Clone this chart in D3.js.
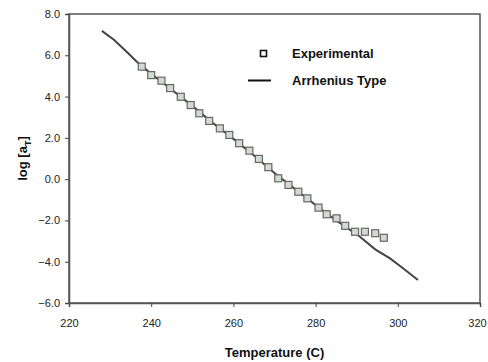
<!DOCTYPE html>
<html>
<head>
<meta charset="UTF-8">
<style>
    body { margin: 0; background: #fff; }
    text { font-family: Arial, "Liberation Sans", sans-serif; }
    .tick text { font-size: 11px; fill: #222; }
    .axis-title { font-size: 13px; font-weight: bold; fill: #111; }
    .legend text { font-size: 13px; font-weight: bold; fill: #111; }
</style>
</head>
<body>
<script src="https://cdn.jsdelivr.net/npm/d3@7"></script>
<script>
// experimental points (temperature C, log aT)
var expTemp = [237.7, 240.0, 242.5, 244.6, 247.2, 249.6, 251.7, 254.1, 256.7, 259.0, 261.4, 263.9, 266.2,
               268.5, 270.9, 273.4, 275.8, 278.0, 280.7, 282.7, 285.1, 287.2, 289.6, 292.0, 294.5, 296.6];
var expLog  = [5.45, 5.04, 4.77, 4.41, 3.99, 3.59, 3.19, 2.82, 2.46, 2.14, 1.74, 1.38, 0.98,
               0.58, 0.04, -0.28, -0.61, -0.93, -1.38, -1.70, -1.90, -2.26, -2.55, -2.55, -2.62, -2.84];
// Arrhenius fit curve
var fitTemp = [228, 231, 234.4, 236.5, 240, 245, 250, 255, 260, 265, 270, 275, 280, 285, 290.8, 294.5, 298.1, 301.5, 304.9];
var fitLog  = [7.18, 6.74, 6.10, 5.69, 5.10, 4.33, 3.55, 2.72, 1.95, 1.15, 0.30, -0.48, -1.25, -2.00, -2.79, -3.40, -3.84, -4.35, -4.89];
var xTicks = [220, 240, 260, 280, 300, 320];
var yTicks = [-6, -4, -2, 0, 2, 4, 6, 8];

var width = 488, height = 362;
var margin = {left: 69, right: 8, top: 14, bottom: 59};

var svg = d3.select("body").append("svg").attr("width", width).attr("height", height);

var x = d3.scaleLinear().domain([220, 320]).range([margin.left, width - margin.right]);
var y = d3.scaleLinear().domain([-6, 8]).range([height - margin.bottom, margin.top]);

// plot frame
svg.append("rect")
    .attr("x", x(220)).attr("y", y(8))
    .attr("width", x(320) - x(220)).attr("height", y(-6) - y(8))
    .attr("fill", "#fff").attr("stroke", "#555").attr("stroke-width", 1.5);

var xAxis = svg.append("g")
    .attr("transform", "translate(0," + y(-6) + ")")
    .call(d3.axisBottom(x).tickValues(xTicks).tickFormat(d3.format("d")).tickSize(4).tickPadding(12));
var yAxis = svg.append("g")
    .attr("transform", "translate(" + x(220) + ",0)")
    .call(d3.axisLeft(y).tickValues(yTicks).tickFormat(d3.format(".1f")).tickSize(4).tickPadding(5));
[xAxis, yAxis].forEach(function(a) {
    a.select(".domain").attr("stroke", "#555").attr("stroke-width", 1.5);
    a.selectAll(".tick line").attr("stroke", "#444");
});
// last label sits against the page edge
xAxis.selectAll(".tick text").filter(function(d) { return d === 320; }).attr("dx", -3);

// fit line
var line = d3.line().x(function(d) { return x(d[0]); }).y(function(d) { return y(d[1]); });
svg.append("path")
    .datum(d3.zip(fitTemp, fitLog))
    .attr("d", line)
    .attr("fill", "none").attr("stroke", "#444").attr("stroke-width", 2);

// experimental squares
var s = 7;
svg.append("g").selectAll("rect")
    .data(d3.zip(expTemp, expLog))
    .enter().append("rect")
    .attr("x", function(d) { return x(d[0]) - s / 2; })
    .attr("y", function(d) { return y(d[1]) - s / 2; })
    .attr("width", s).attr("height", s)
    .attr("fill", "#d3d9d3").attr("stroke", "#666").attr("stroke-width", 1.2);

// legend
var lg = svg.append("g").attr("class", "legend");
lg.append("rect").attr("x", 260.5).attr("y", 50.5).attr("width", 6).attr("height", 6)
    .attr("fill", "#fff").attr("stroke", "#111").attr("stroke-width", 1.6);
lg.append("text").attr("x", 292).attr("y", 57.5).text("Experimental");
lg.append("line").attr("x1", 248).attr("x2", 271).attr("y1", 80.5).attr("y2", 80.5)
    .attr("stroke", "#111").attr("stroke-width", 2);
lg.append("text").attr("x", 292).attr("y", 85).text("Arrhenius Type");

// axis titles
svg.append("text").attr("class", "axis-title")
    .attr("x", (x(220) + x(320)) / 2).attr("y", 357)
    .attr("text-anchor", "middle").text("Temperature (C)");

var yt = svg.append("text").attr("class", "axis-title")
    .attr("transform", "translate(27," + ((y(8) + y(-6)) / 2) + ") rotate(-90)")
    .attr("text-anchor", "middle");
yt.append("tspan").text("log [a");
yt.append("tspan").attr("dy", 4).attr("font-size", 9).text("T");
yt.append("tspan").attr("dy", -4).text("]");
</script>
</body>
</html>
